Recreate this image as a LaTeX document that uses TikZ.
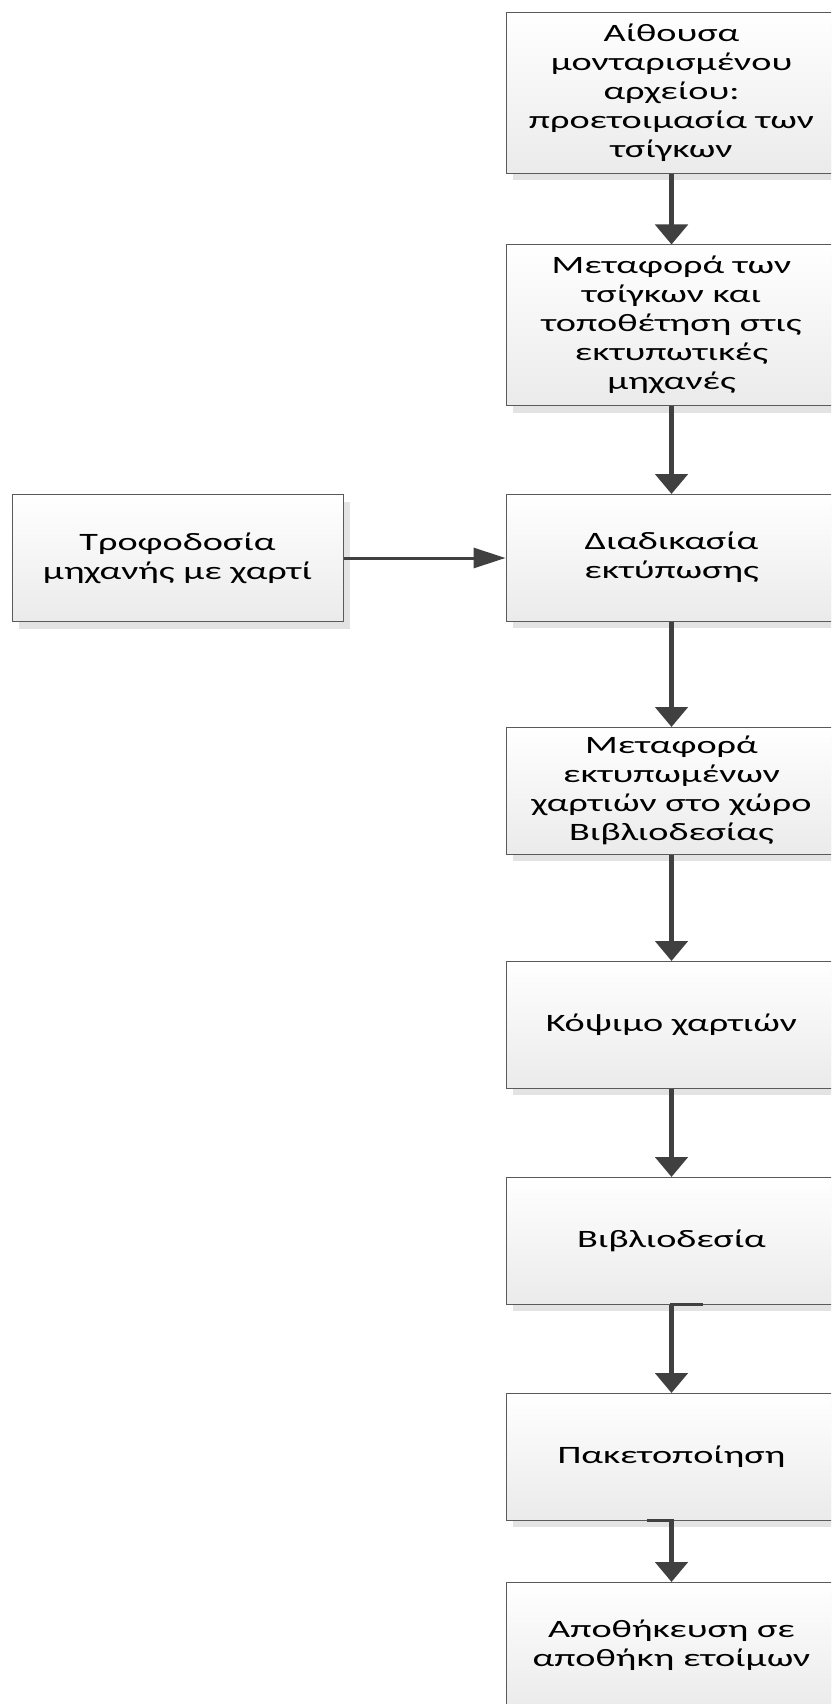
\documentclass[tikz,border=0pt]{standalone}
\usepackage{fontspec}
\setmainfont{Carlito}[FakeStretch=1.53]
\usetikzlibrary{arrows.meta,shadows}
\definecolor{arrowc}{HTML}{404040}
\definecolor{borderc}{HTML}{5A5A5A}
\tikzset{
  procbox/.style={draw=borderc, line width=1pt, top color=white, bottom color=black!8,
    minimum width=331pt, minimum height=127pt, align=center, inner sep=0pt,
    font=\fontsize{25}{29}\selectfont,
    general shadow={fill=black!11, shadow xshift=7pt, shadow yshift=-7pt}},
  tallbox/.style={procbox, minimum height=161pt},
  varrow/.style={draw=arrowc, line width=5pt, -{Triangle[width=32pt,length=20pt]}, shorten >=-0.5pt},
  harrow/.style={draw=arrowc, line width=3pt, -{Triangle[width=20pt,length=32pt]}},
  stub/.style={draw=arrowc, line width=3pt}
}
\begin{document}
\begin{tikzpicture}[x=1pt,y=-1pt]
\useasboundingbox (0,0) rectangle (831,1704);
\clip (0,0) rectangle (831,1704);
\fill[white] (0,0) rectangle (831,1704);
\node[tallbox] (b1) at (671.5,93) {Αίθουσα\\μονταρισμένου\\αρχείου:\\προετοιμασία των\\τσίγκων};
\node[tallbox] (b2) at (671.5,325) {Μεταφορά των\\τσίγκων και\\τοποθέτηση στις\\εκτυπωτικές\\μηχανές};
\node[procbox] (b3) at (671.5,557.5) {Διαδικασία\\εκτύπωσης};
\node[procbox] (lf) at (177.5,558) {Τροφοδοσία\\μηχανής με χαρτί};
\node[procbox] (b4) at (671.5,790.5) {Μεταφορά\\εκτυπωμένων\\χαρτιών στο χώρο\\Βιβλιοδεσίας};
\node[procbox] (b5) at (671.5,1024.5) {Κόψιμο χαρτιών};
\node[procbox] (b6) at (671.5,1240.5) {Βιβλιοδεσία};
\node[procbox] (b7) at (671.5,1456.5) {Πακετοποίηση};
\node[procbox] (b8) at (671.5,1645.5) {Αποθήκευση σε\\αποθήκη ετοίμων};
\draw[varrow] (b1.south) -- (b2.north);
\draw[varrow] (b2.south) -- (b3.north);
\draw[harrow] (lf.east) -- (lf.east -| b3.west);
\draw[varrow] (b3.south) -- (b4.north);
\draw[varrow] (b4.south) -- (b5.north);
\draw[varrow] (b5.south) -- (b6.north);
\draw[stub] ([xshift=31pt]b6.south) -- ([xshift=-2pt]b6.south);
\draw[varrow] (b6.south) -- (b7.north);
\draw[stub] ([xshift=-25pt]b7.south) -- ([xshift=2pt]b7.south);
\draw[varrow] (b7.south) -- (b8.north);
\end{tikzpicture}
\end{document}
